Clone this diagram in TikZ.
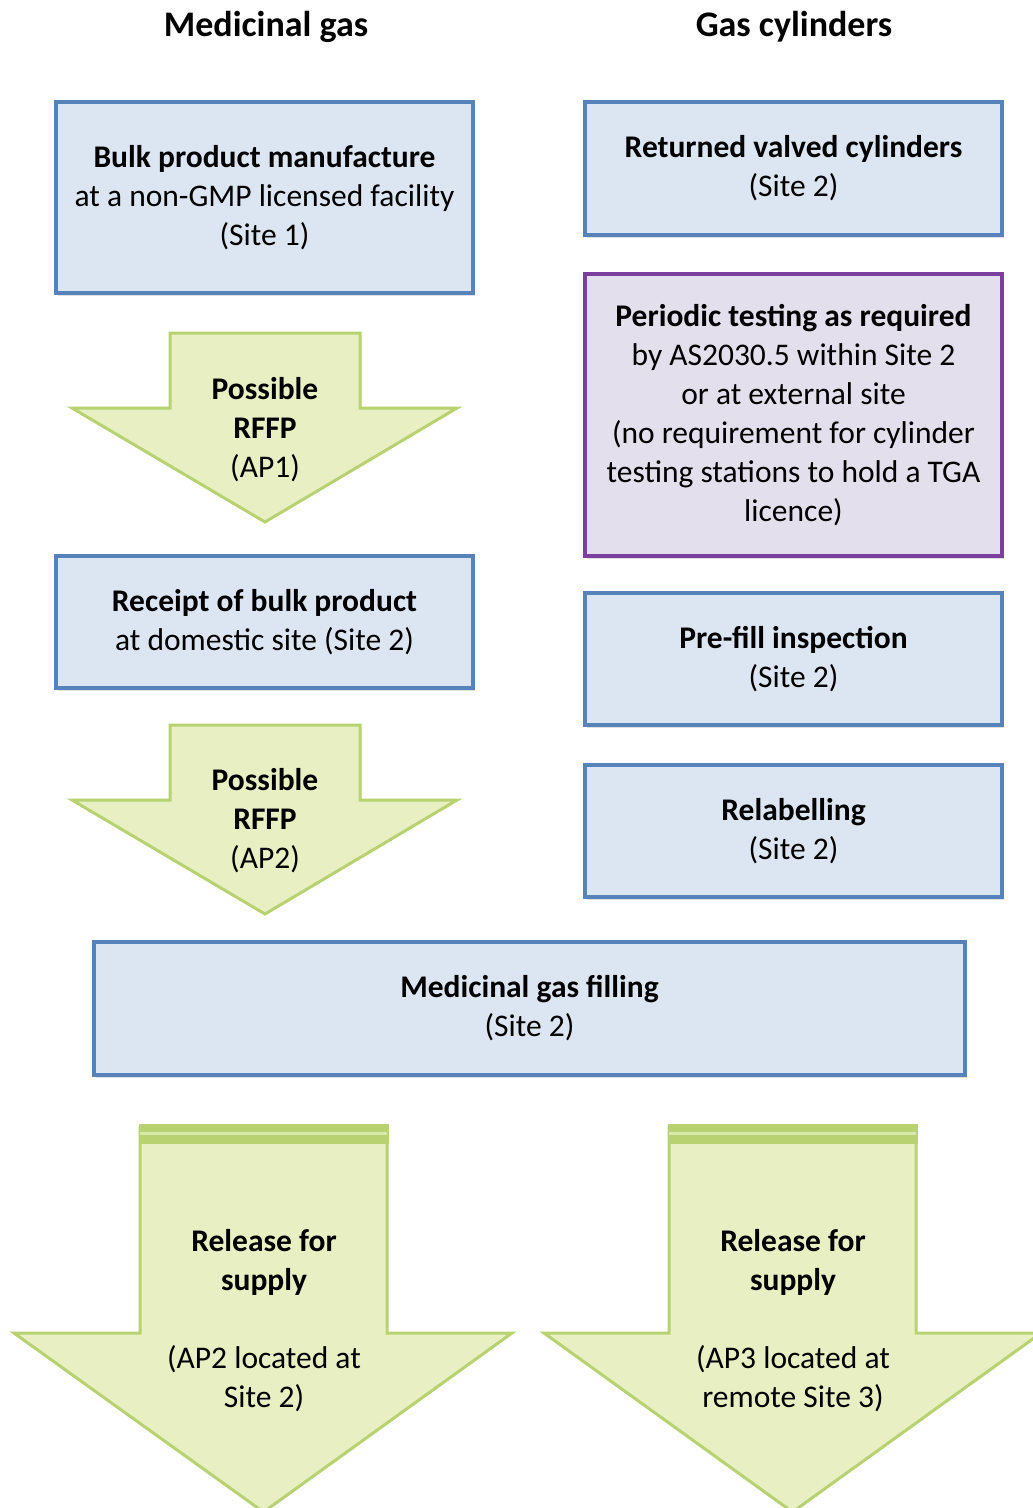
\documentclass[tikz,border=0pt]{standalone}
\usepackage{fontspec}
\setmainfont{Carlito}
\definecolor{boxfill}{HTML}{DCE6F2}
\definecolor{boxline}{HTML}{5583BA}
\definecolor{purpfill}{HTML}{E4DFEC}
\definecolor{purpline}{HTML}{7B3F9E}
\definecolor{arrfill}{HTML}{E8F0C3}
\definecolor{arrline}{HTML}{B8D271}
\begin{document}
\begin{tikzpicture}[x=1pt,y=-1pt,
  every node/.style={font=\fontsize{31.5}{39}\selectfont, align=center, inner sep=0pt},
  header/.style={font=\fontsize{36}{42}\selectfont\bfseries},
  bluebox/.style={draw=boxline, fill=boxfill, line width=3.5pt},
  purplebox/.style={draw=purpline, fill=purpfill, line width=3.5pt},
  greenarrow/.style={draw=arrline, fill=arrfill, line width=3pt, line join=miter},
  shadowed/.style={preaction={fill=black!12, transform canvas={shift={(2pt,-3pt)}}}}]
\useasboundingbox (0,0) rectangle (1033,1508);
\clip (0,0) rectangle (1033,1508);
\fill[white] (0,0) rectangle (1033,1508);

% headers
\node[header] (h1) at (266,27) {Medicinal gas};
\node[header] (h2) at (794,27) {Gas cylinders};

% left column boxes
\node[bluebox, shadowed, minimum width=417pt, minimum height=191pt] (bulk) at (264.5,197.5)
  {\textbf{Bulk product manufacture}\\at a non-GMP licensed facility\\(Site 1)};
\node[bluebox, shadowed, minimum width=417pt, minimum height=132pt] (receipt) at (264.5,622)
  {\textbf{Receipt of bulk product}\\at domestic site (Site 2)};

% right column boxes
\node[bluebox, shadowed, minimum width=417pt, minimum height=133pt] (returned) at (793.5,168.5)
  {\textbf{Returned valved cylinders}\\(Site 2)};
\node[purplebox, shadowed, minimum width=417pt, minimum height=282pt] (periodic) at (793.5,415)
  {\textbf{Periodic testing as required}\\by AS2030.5 within Site 2\\or at external site\\(no requirement for cylinder\\testing stations to hold a TGA\\licence)};
\node[bluebox, shadowed, minimum width=417pt, minimum height=132pt] (prefill) at (793.5,659)
  {\textbf{Pre-fill inspection}\\(Site 2)};
\node[bluebox, shadowed, minimum width=417pt, minimum height=132pt] (relabel) at (793.5,831)
  {\textbf{Relabelling}\\(Site 2)};

% filling box
\node[bluebox, shadowed, minimum width=871pt, minimum height=133pt] (filling) at (529.5,1008.5)
  {\textbf{Medicinal gas filling}\\(Site 2)};

% RFFP arrows
\draw[greenarrow] (170,333) -- (360,333) -- (360,408) -- (457,408) -- (265,522) -- (72,408) -- (170,408) -- cycle;
\node (rffp1) at (265,430) {\textbf{Possible}\\\textbf{RFFP}\\(AP1)};
\draw[greenarrow] (170,725) -- (360,725) -- (360,800) -- (457,800) -- (265,914) -- (72,800) -- (170,800) -- cycle;
\node (rffp2) at (265,821) {\textbf{Possible}\\\textbf{RFFP}\\(AP2)};

% release arrows
\draw[greenarrow] (140,1127) -- (387,1127) -- (387,1333) -- (512,1333) -- (263.5,1512) -- (14,1333) -- (140,1333) -- cycle;
\fill[arrline] (138.5,1124) rectangle (388.5,1144);
\draw[arrfill!70!arrline, line width=2.5pt] (140,1133.5) -- (387,1133.5);
\node (rel1) at (264,1321) {\textbf{Release for}\\\textbf{supply}\\[39pt](AP2 located at\\Site 2)};

\draw[greenarrow] (669,1127) -- (916,1127) -- (916,1333) -- (1041,1333) -- (792.5,1512) -- (544,1333) -- (669,1333) -- cycle;
\fill[arrline] (667.5,1124) rectangle (917.5,1144);
\draw[arrfill!70!arrline, line width=2.5pt] (669,1133.5) -- (916,1133.5);
\node (rel2) at (793,1321) {\textbf{Release for}\\\textbf{supply}\\[39pt](AP3 located at\\remote Site 3)};
\end{tikzpicture}
\end{document}
